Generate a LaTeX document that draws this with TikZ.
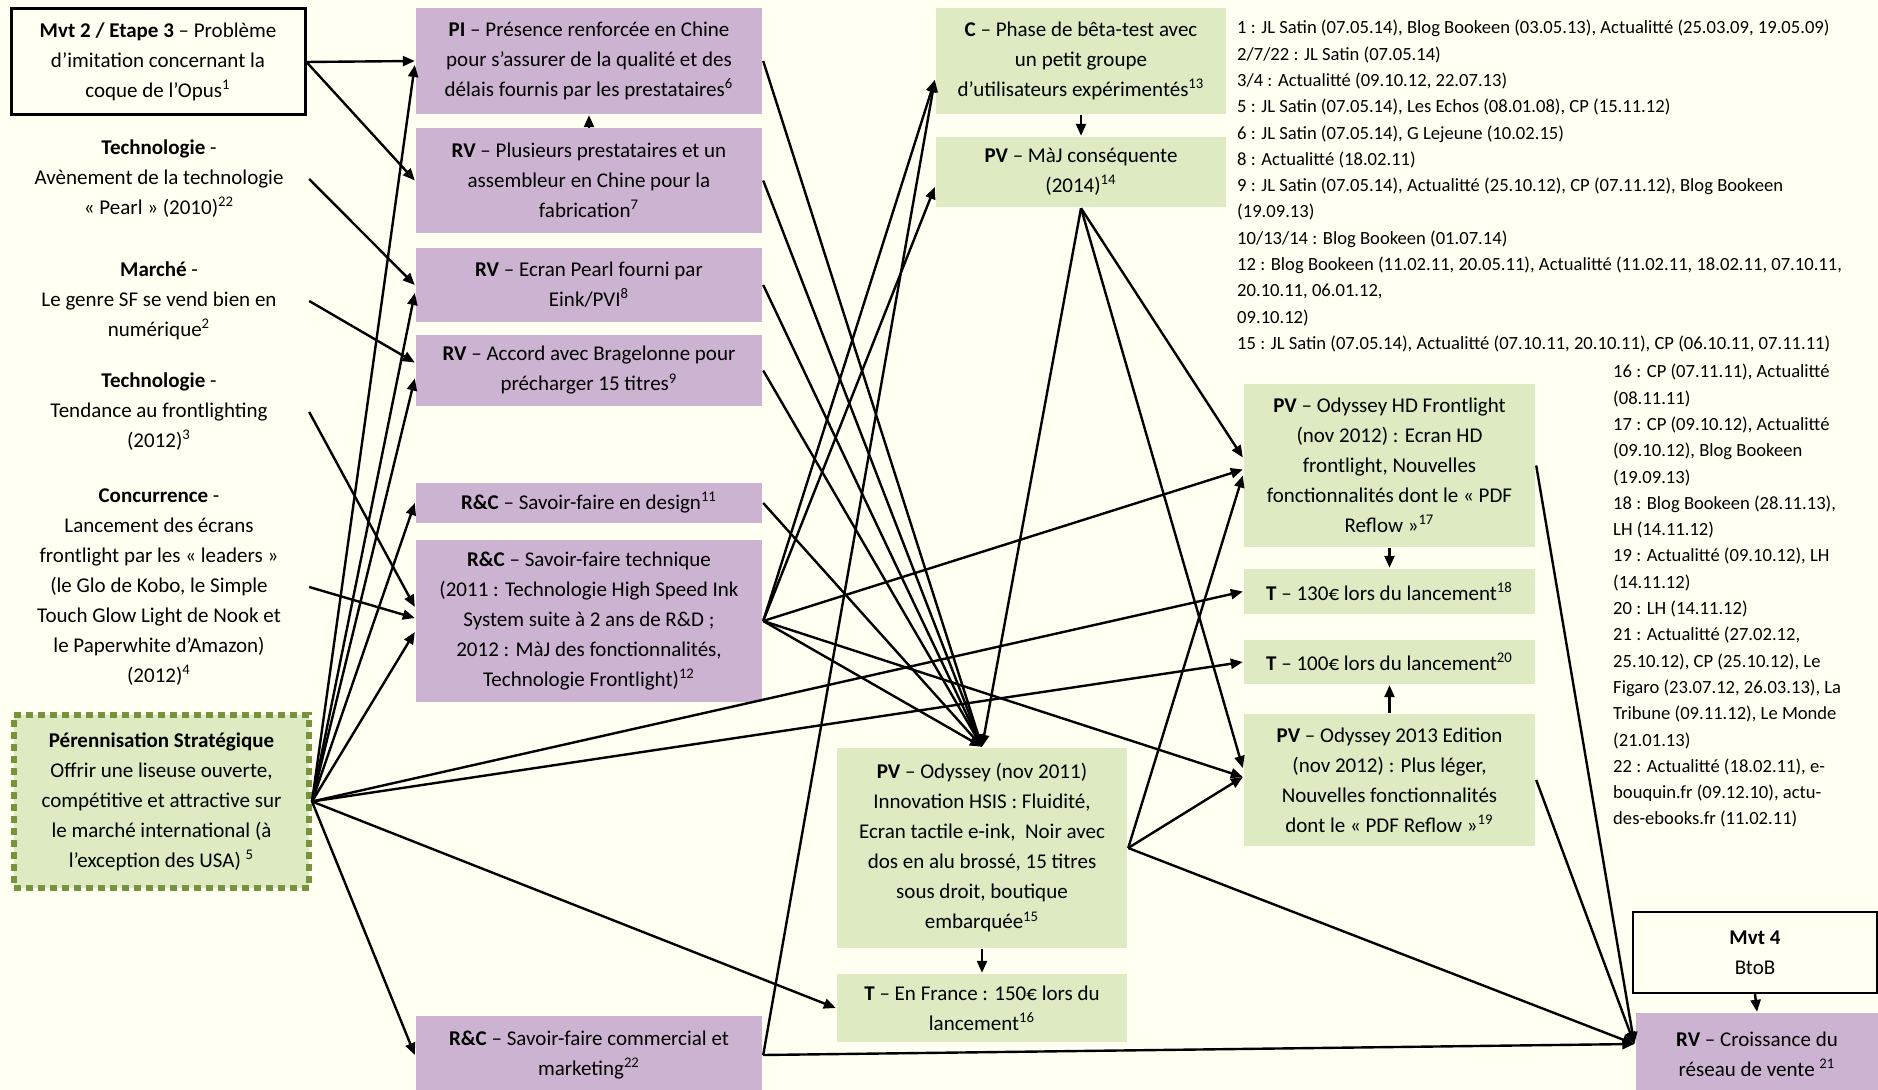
\documentclass[tikz,border=0pt]{standalone}
\usepackage{fontspec}
\setmainfont{Carlito}
\usetikzlibrary{arrows.meta}
\definecolor{paper}{HTML}{FFFFF2}
\definecolor{ressource}{HTML}{CCB3D1}
\definecolor{offre}{HTML}{DEEAC1}
\definecolor{olive}{HTML}{77933C}

\begin{document}
\begin{tikzpicture}[
    x=0.5pt, y=-0.5pt,
    >={Triangle[length=6pt,width=5pt]},
    line width=1.2pt,
    font=\fontsize{10.5}{15}\selectfont,
    box/.style={align=center, inner sep=2pt},
    purplebox/.style={box, fill=ressource, minimum width=173pt},
    greenbox/.style={box, fill=offre},
    envtext/.style={box, minimum width=149pt, inner sep=0pt},
    mvtbox/.style={box, draw, line width=1.5pt},
    stratbox/.style={box, draw=olive, fill=offre, line width=3pt,
        dash pattern=on 3.5pt off 2.5pt},
    srclist/.style={align=left, inner sep=0pt, anchor=north west,
        font=\fontsize{9.3}{13.15}\selectfont}
]
\path[use as bounding box, fill=paper] (0,0) rectangle (1878,1090);

% environnement
\node[mvtbox, minimum width=147pt, minimum height=53pt] (mvtDeux) at (158,62)
    {\textbf{Mvt 2 / Etape 3} – Problème\\d’imitation concernant la\\coque de l’Opus\textsuperscript{1}};
\node[envtext] (techPearl) at (159,179)
    {\textbf{Technologie} -\\Avènement de la technologie\\« Pearl » (2010)\textsuperscript{22}};
\node[envtext] (marche) at (159,301)
    {\textbf{Marché} -\\Le genre SF se vend bien en\\numérique\textsuperscript{2}};
\node[envtext] (techFront) at (159,412)
    {\textbf{Technologie} -\\Tendance au frontlighting\\(2012)\textsuperscript{3}};
\node[envtext] (concur) at (159,587)
    {\textbf{Concurrence} -\\Lancement des écrans\\frontlight par les « leaders »\\(le Glo de Kobo, le Simple\\Touch Glow Light de Nook et\\le Paperwhite d’Amazon)\\(2012)\textsuperscript{4}};
\node[stratbox, minimum width=147.5pt, minimum height=86.5pt] (perenn) at (161.5,801.5)
    {\textbf{Pérennisation Stratégique}\\Offrir une liseuse ouverte,\\compétitive et attractive sur\\le marché international (à\\l’exception des USA) \textsuperscript{5}};

% ressources et compétences
\node[purplebox, minimum height=53pt] (pi) at (589,61)
    {\textbf{PI} – Présence renforcée en Chine\\pour s’assurer de la qualité et des\\délais fournis par les prestataires\textsuperscript{6}};
\node[purplebox, minimum height=52.5pt] (rvPresta) at (589,180.5)
    {\textbf{RV} – Plusieurs prestataires et un\\assembleur en Chine pour la\\fabrication\textsuperscript{7}};
\node[purplebox, minimum height=37pt] (rvEcran) at (589,285)
    {\textbf{RV} – Ecran Pearl fourni par\\Eink/PVI\textsuperscript{8}};
\node[purplebox, minimum height=35.5pt] (rvAccord) at (589,370.5)
    {\textbf{RV} – Accord avec Bragelonne pour\\précharger 15 titres\textsuperscript{9}};
\node[purplebox, minimum height=20pt] (rcDesign) at (589,503)
    {\textbf{R\&C} – Savoir-faire en design\textsuperscript{11}};
\node[purplebox, minimum height=81pt] (rcTech) at (589,621)
    {\textbf{R\&C} – Savoir-faire technique\\(2011 : Technologie High Speed Ink\\System suite à 2 ans de R\&D ;\\2012 : MàJ des fonctionnalités,\\Technologie Frontlight)\textsuperscript{12}};
\node[purplebox, minimum height=39.5pt] (rcComm) at (589,1055)
    {\textbf{R\&C} – Savoir-faire commercial et\\marketing\textsuperscript{22}};

% offre
\node[greenbox, minimum width=145pt, minimum height=53pt] (beta) at (1081,61)
    {\textbf{C} – Phase de bêta-test avec\\un petit groupe\\d’utilisateurs expérimentés\textsuperscript{13}};
\node[greenbox, minimum width=145pt, minimum height=35pt] (majPV) at (1081,172)
    {\textbf{PV} – MàJ conséquente\\(2014)\textsuperscript{14}};
\node[greenbox, minimum width=145pt, minimum height=100pt] (odyssey) at (982,848)
    {\textbf{PV} – Odyssey (nov 2011)\\Innovation HSIS : Fluidité,\\Ecran tactile e-ink,~ Noir avec\\dos en alu brossé, 15 titres\\sous droit, boutique\\embarquée\textsuperscript{15}};
\node[greenbox, minimum width=145pt, minimum height=34pt] (tarifFr) at (982,1008)
    {\textbf{T} – En France : 150€ lors du\\lancement\textsuperscript{16}};
\node[greenbox, minimum width=145.5pt, minimum height=81.5pt] (odysseyHD) at (1389.5,465.5)
    {\textbf{PV} – Odyssey HD Frontlight\\(nov 2012) : Ecran HD\\frontlight, Nouvelles\\fonctionnalités dont le « PDF\\Reflow »\textsuperscript{17}};
\node[greenbox, minimum width=145.5pt, minimum height=22.5pt] (tarifCent30) at (1389.5,591.5)
    {\textbf{T} – 130€ lors du lancement\textsuperscript{18}};
\node[greenbox, minimum width=145.5pt, minimum height=22pt] (tarifCent) at (1389.5,662)
    {\textbf{T} – 100€ lors du lancement\textsuperscript{20}};
\node[greenbox, minimum width=145.5pt, minimum height=66pt] (odyssey13) at (1389.5,780)
    {\textbf{PV} – Odyssey 2013 Edition\\(nov 2012) : Plus léger,\\Nouvelles fonctionnalités\\dont le « PDF Reflow »\textsuperscript{19}};

\node[mvtbox, line width=1.2pt, minimum width=122pt, minimum height=40.5pt] (mvtQuatre) at (1755,952.5)
    {\textbf{Mvt 4}\\BtoB};
\node[purplebox, minimum width=121.5pt, minimum height=41pt] (rvReseau) at (1757,1054)
    {\textbf{RV} – Croissance du\\réseau de vente \textsuperscript{21}};

% sources
\node[srclist] (srcA) at (1236,19)
    {1 : JL Satin (07.05.14), Blog Bookeen (03.05.13), Actualitté (25.03.09, 19.05.09)\\
     2/7/22 : JL Satin (07.05.14)\\
     3/4 : Actualitté (09.10.12, 22.07.13)\\
     5 : JL Satin (07.05.14), Les Echos (08.01.08), CP (15.11.12)\\
     6 : JL Satin (07.05.14), G Lejeune (10.02.15)\\
     8 : Actualitté (18.02.11)\\
     9 : JL Satin (07.05.14), Actualitté (25.10.12), CP (07.11.12), Blog Bookeen\\
     (19.09.13)\\
     10/13/14 : Blog Bookeen (01.07.14)\\
     12 : Blog Bookeen (11.02.11, 20.05.11), Actualitté (11.02.11, 18.02.11, 07.10.11,\\
     20.10.11, 06.01.12,\\
     09.10.12)\\
     15 : JL Satin (07.05.14), Actualitté (07.10.11, 20.10.11), CP (06.10.11, 07.11.11)};
\node[srclist] (srcB) at (1612,363)
    {16 : CP (07.11.11), Actualitté\\
     (08.11.11)\\
     17 : CP (09.10.12), Actualitté\\
     (09.10.12), Blog Bookeen\\
     (19.09.13)\\
     18 : Blog Bookeen (28.11.13),\\
     LH (14.11.12)\\
     19 : Actualitté (09.10.12), LH\\
     (14.11.12)\\
     20 : LH (14.11.12)\\
     21 : Actualitté (27.02.12,\\
     25.10.12), CP (25.10.12), Le\\
     Figaro (23.07.12, 26.03.13), La\\
     Tribune (09.11.12), Le Monde\\
     (21.01.13)\\
     22 : Actualitté (18.02.11), e-\\
     bouquin.fr (09.12.10), actu-\\
     des-ebooks.fr (11.02.11)};

% liens environnement
\draw[->] (mvtDeux.east) -- (pi.west);
\draw[->] (mvtDeux.east) -- (rvPresta.west);
\draw[->] (techPearl.east) -- (rvEcran.west);
\draw[->] (marche.east) -- ([yshift=4pt]rvAccord.west);
\draw[->] (techFront.east) -- ([yshift=7pt]rcTech.west);
\draw[->] (concur.east) -- ([yshift=1.5pt]rcTech.west);

% liens pérennisation
\draw[->] (perenn.east) -- ([yshift=-2pt]pi.west);
\draw[->] (perenn.east) -- ([yshift=-4pt]rvEcran.west);
\draw[->] (perenn.east) -- ([yshift=-4pt]rvAccord.west);
\draw[->] (perenn.east) -- (rcDesign.west);
\draw[->] (perenn.east) -- ([yshift=-5.5pt]rcTech.west);
\draw[->] (perenn.east) -- (rcComm.west);
\draw[->] (perenn.east) -- (tarifFr.west);
\draw[->] (perenn.east) -- (tarifCent30.west);
\draw[->] (perenn.east) -- (tarifCent.west);

% vers l'offre
\foreach \res in {pi,rvPresta,rvEcran,rvAccord,rcDesign,rcTech}
    \draw[->] (\res.east) -- (odyssey.north);
\draw[->] (rcTech.east) -- ([yshift=-9.5pt]beta.west);
\draw[->] (rcComm.east) -- ([yshift=-9.5pt]beta.west);
\draw[->] (rcTech.east) -- ([yshift=-7.5pt]majPV.west);
\draw[->] (rcTech.east) -- ([yshift=-2pt]odysseyHD.west);
\draw[->] (rcTech.east) -- ([yshift=1.5pt]odyssey13.west);
\draw[->] (majPV.south) -- (odyssey.north);
\draw[->] (majPV.south) -- ([yshift=4pt]odysseyHD.west);
\draw[->] (majPV.south) -- ([yshift=6pt]odyssey13.west);
\draw[->] (odyssey.east) -- ([yshift=-5pt]odysseyHD.west);
\draw[->] (odyssey.east) -- ([yshift=1.5pt]odyssey13.west);

% vers le réseau
\draw[->] (odyssey.east) -- ([yshift=5pt]rvReseau.west);
\draw[->] (odysseyHD.east) -- ([yshift=5pt]rvReseau.west);
\draw[->] (odyssey13.east) -- ([yshift=5pt]rvReseau.west);
\draw[->] (rcComm.east) -- ([yshift=5pt]rvReseau.west);

% liens verticaux
\draw[->] (rvPresta.north) -- (pi.south);
\draw[->] (beta.south) -- (majPV.north);
\draw[->] (odyssey.south) -- (tarifFr.north);
\draw[->] (odysseyHD.south) -- (tarifCent30.north);
\draw[->] (odyssey13.north) -- (tarifCent.south);
\draw[->] (mvtQuatre.south) -- (rvReseau.north);

\end{tikzpicture}
\end{document}
